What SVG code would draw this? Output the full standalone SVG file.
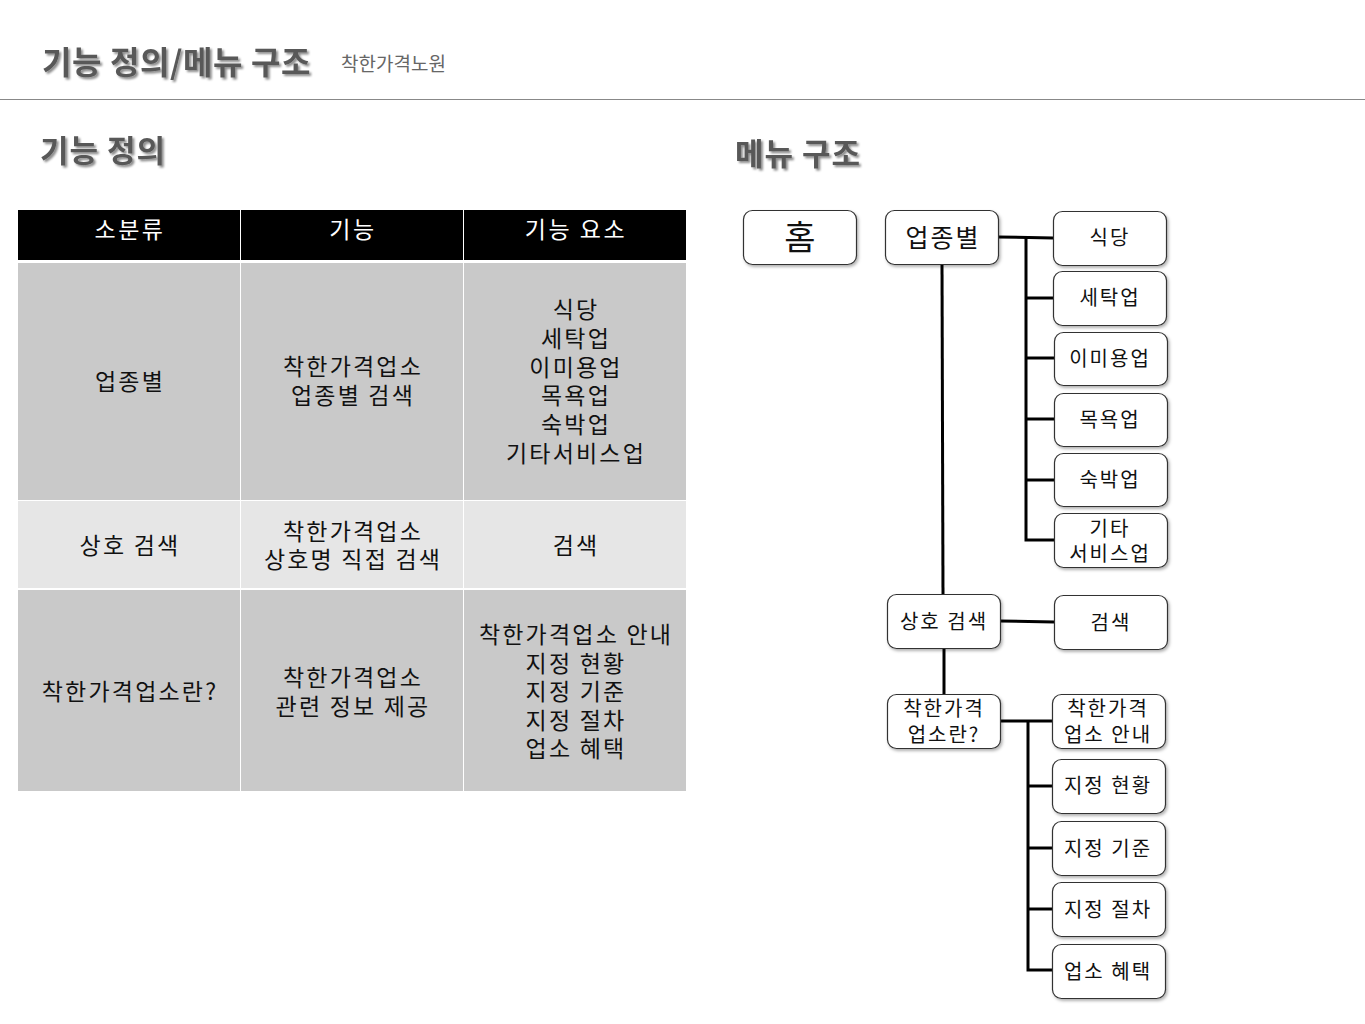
<svg xmlns="http://www.w3.org/2000/svg" width="1365" height="1024" viewBox="0 0 1365 1024">
<defs>
<filter id="ts" x="-10%" y="-20%" width="130%" height="160%"><feDropShadow dx="2" dy="2" stdDeviation="1.2" flood-color="#000" flood-opacity="0.45"/></filter>
<filter id="ns" x="-10%" y="-10%" width="130%" height="140%"><feDropShadow dx="1.5" dy="2" stdDeviation="1.5" flood-color="#000" flood-opacity="0.3"/></filter>
<style>
.ttl{font-family:"Noto Sans CJK KR","Noto Sans",sans-serif;font-weight:700;fill:#595959;font-size:31px;letter-spacing:1px}
.sub{font-family:"Noto Sans CJK KR",sans-serif;font-size:19px;fill:#666}
.th{font-family:"Noto Sans CJK KR",sans-serif;font-size:23px;fill:#fff;text-anchor:middle;letter-spacing:2.5px}
.td{font-family:"Noto Sans CJK KR",sans-serif;font-size:23px;fill:#111;text-anchor:middle;letter-spacing:2.2px}
.box{fill:#fff;stroke:#333;stroke-width:1.2;filter:url(#ns)}
.nt{font-family:"Noto Sans CJK KR",sans-serif;font-size:20px;fill:#111;text-anchor:middle;letter-spacing:2px}
.ln{stroke:#000;stroke-width:3;fill:none}
</style>
</defs>
<rect width="1365" height="1024" fill="#fff"/>
<text class="ttl" x="42" y="74" filter="url(#ts)" style="font-size:32px;letter-spacing:0.6px">기능 정의/메뉴 구조</text>
<text class="sub" x="341" y="71">착한가격노원</text>
<line x1="0" y1="99.5" x2="1365" y2="99.5" stroke="#888" stroke-width="1.2"/>
<text class="ttl" x="40" y="162" filter="url(#ts)">기능 정의</text>
<text class="ttl" x="735" y="165" filter="url(#ts)">메뉴 구조</text>

<g id="table">
<rect x="18" y="210" width="668" height="50" fill="#000"/>
<rect x="18" y="263" width="668" height="237" fill="#c9c9c9"/>
<rect x="18" y="501" width="668" height="87" fill="#e6e6e6"/>
<rect x="18" y="590" width="668" height="201" fill="#c9c9c9"/>
<line x1="240.5" y1="210" x2="240.5" y2="791" stroke="#fff" stroke-width="1"/>
<line x1="463.5" y1="210" x2="463.5" y2="791" stroke="#fff" stroke-width="1"/>
<text class="th" x="130" y="238">소분류</text>
<text class="th" x="353" y="238">기능</text>
<text class="th" x="576" y="238">기능 요소</text>
<text class="td" x="130" y="390">업종별</text>
<text class="td" y="375"><tspan x="353">착한가격업소</tspan><tspan x="353" dy="29">업종별 검색</tspan></text>
<text class="td" y="318"><tspan x="576">식당</tspan><tspan x="576" dy="29">세탁업</tspan><tspan x="576" dy="28.5">이미용업</tspan><tspan x="576" dy="28.5">목욕업</tspan><tspan x="576" dy="29">숙박업</tspan><tspan x="576" dy="29">기타서비스업</tspan></text>
<text class="td" x="130" y="554">상호 검색</text>
<text class="td" y="540"><tspan x="353">착한가격업소</tspan><tspan x="353" dy="28">상호명 직접 검색</tspan></text>
<text class="td" x="576" y="554">검색</text>
<text class="td" x="130" y="700">착한가격업소란?</text>
<text class="td" y="686"><tspan x="353">착한가격업소</tspan><tspan x="353" dy="29">관련 정보 제공</tspan></text>
<text class="td" y="643"><tspan x="576">착한가격업소 안내</tspan><tspan x="576" dy="28.5">지정 현황</tspan><tspan x="576" dy="28.5">지정 기준</tspan><tspan x="576" dy="28.5">지정 절차</tspan><tspan x="576" dy="28.5">업소 혜택</tspan></text>
</g>

<g id="connectors">
<path class="ln" d="M942 264 L943 594"/>
<path class="ln" d="M944 648 L944 694"/>
<path class="ln" d="M998 237 L1053 238"/>
<path class="ln" d="M1026 237 L1026 540 L1054 540"/>
<path class="ln" d="M1026 298 L1053 298"/>
<path class="ln" d="M1026 358 L1054 358"/>
<path class="ln" d="M1026 419 L1054 419"/>
<path class="ln" d="M1026 480 L1054 480"/>
<path class="ln" d="M1000 621 L1054 622"/>
<path class="ln" d="M1000 721 L1052 721"/>
<path class="ln" d="M1028 721 L1028 970 L1052 970"/>
<path class="ln" d="M1028 786 L1052 786"/>
<path class="ln" d="M1028 848 L1052 848"/>
<path class="ln" d="M1028 909 L1052 909"/>
</g>

<g id="n-home"><rect class="box" x="743.5" y="210.5" width="113" height="54" rx="9"/><text class="nt" x="800" y="250" style="font-size:34px;letter-spacing:0">홈</text></g>
<g id="n-type"><rect class="box" x="885.5" y="210.5" width="113" height="54" rx="9"/><text class="nt" x="943" y="247" style="font-size:25px;letter-spacing:2px">업종별</text></g>
<g id="n-sikdang"><rect class="box" x="1053.5" y="211.5" width="113" height="54" rx="9"/><text class="nt" x="1110" y="245">식당</text></g>
<g id="n-setak"><rect class="box" x="1053.5" y="271.5" width="113" height="54" rx="9"/><text class="nt" x="1110" y="305">세탁업</text></g>
<g id="n-imiyong"><rect class="box" x="1054.5" y="332.5" width="113" height="53" rx="9"/><text class="nt" x="1110" y="366">이미용업</text></g>
<g id="n-mogyok"><rect class="box" x="1054.5" y="393.5" width="113" height="53" rx="9"/><text class="nt" x="1110" y="427">목욕업</text></g>
<g id="n-sukbak"><rect class="box" x="1054.5" y="453.5" width="113" height="53" rx="9"/><text class="nt" x="1110" y="487">숙박업</text></g>
<g id="n-etc"><rect class="box" x="1054.5" y="513.5" width="113" height="54" rx="9"/><text class="nt" y="536"><tspan x="1110">기타</tspan><tspan x="1110" dy="25">서비스업</tspan></text></g>
<g id="n-sangho"><rect class="box" x="887.5" y="594.5" width="113" height="54" rx="9"/><text class="nt" x="944" y="629">상호 검색</text></g>
<g id="n-search"><rect class="box" x="1054.5" y="595.5" width="113" height="54" rx="9"/><text class="nt" x="1111" y="630">검색</text></g>
<g id="n-about"><rect class="box" x="887.5" y="694.5" width="113" height="54" rx="9"/><text class="nt" y="716"><tspan x="944">착한가격</tspan><tspan x="944" dy="26">업소란?</tspan></text></g>
<g id="n-guide"><rect class="box" x="1052.5" y="694.5" width="113" height="54" rx="9"/><text class="nt" y="716"><tspan x="1108">착한가격</tspan><tspan x="1108" dy="26">업소 안내</tspan></text></g>
<g id="n-status"><rect class="box" x="1052.5" y="759.5" width="113" height="54" rx="9"/><text class="nt" x="1108" y="793">지정 현황</text></g>
<g id="n-criteria"><rect class="box" x="1052.5" y="821.5" width="113" height="54" rx="9"/><text class="nt" x="1108" y="856">지정 기준</text></g>
<g id="n-procedure"><rect class="box" x="1052.5" y="882.5" width="113" height="54" rx="9"/><text class="nt" x="1108" y="917">지정 절차</text></g>
<g id="n-benefit"><rect class="box" x="1052.5" y="944.5" width="113" height="54" rx="9"/><text class="nt" x="1108" y="979">업소 혜택</text></g>
</svg>
